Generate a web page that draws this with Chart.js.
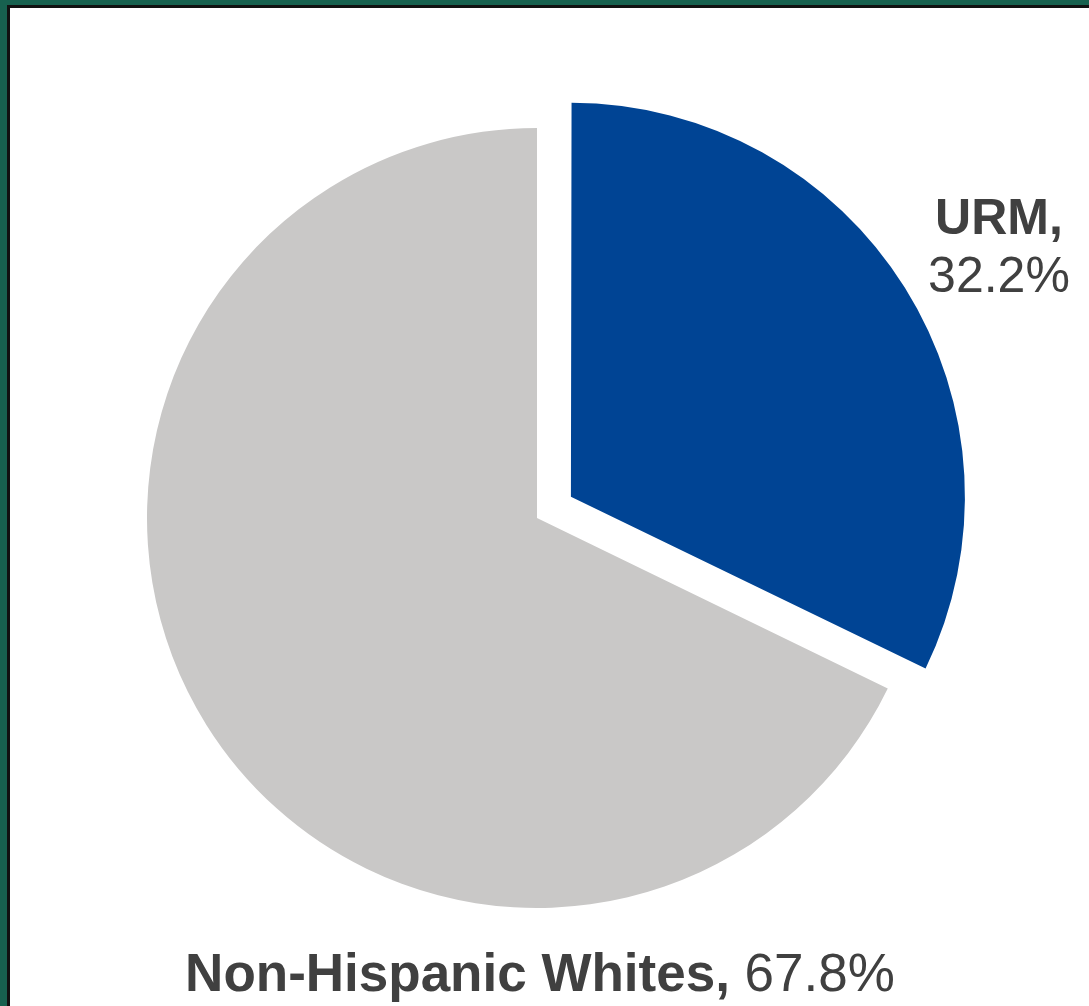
<!DOCTYPE html>
<html>
<head>
<meta charset="utf-8">
<script src="https://cdn.jsdelivr.net/npm/chart.js@4"></script>
<style>
  html, body { margin: 0; padding: 0; }
  body { width: 1089px; height: 1006px; background: #17614f; overflow: hidden; position: relative; }
  .frame { position: absolute; left: 7px; top: 5px; right: 0; bottom: 0; background: #111; }
  .box { position: absolute; left: 10px; top: 8px; width: 1079px; height: 998px; background: #fff; }
</style>
</head>
<body>
<div class="frame"></div>
<div class="box"><canvas class="pie" width="1079" height="998"></canvas></div>
<script>
var categories = ['URM', 'Non-Hispanic Whites'];
var values = [32.2, 67.8];
var sliceColors = ['#004494', '#c9c8c7'];
// chart.js moves an arc by offset / 4
var offsets = [160, 0];

const labelPlugin = {
  id: 'slice_labels',
  afterDraw: (chart) => {
    const ctx = chart.ctx;
    ctx.save();
    ctx.fillStyle = '#404040';
    ctx.textBaseline = 'alphabetic';

    // URM label, two lines, centered
    ctx.textAlign = 'center';
    ctx.font = 'bold 50px "Liberation Sans", Arial, sans-serif';
    ctx.fillText(categories[0] + ',', 989, 226);
    ctx.font = '50px "Liberation Sans", Arial, sans-serif';
    ctx.fillText(values[0].toFixed(1) + '%', 989, 284);

    // bottom label, bold name + regular value
    const boldFont = 'bold 53px "Liberation Sans", Arial, sans-serif';
    const normFont = '53px "Liberation Sans", Arial, sans-serif';
    const part1 = categories[1] + ',';
    const part2 = ' ' + values[1].toFixed(1) + '%';
    ctx.font = boldFont;
    const w1 = ctx.measureText(part1).width;
    ctx.font = normFont;
    const w2 = ctx.measureText(part2).width;
    let x = 530 - (w1 + w2) / 2;
    ctx.textAlign = 'left';
    ctx.font = boldFont;
    ctx.fillText(part1, x, 983);
    ctx.font = normFont;
    ctx.fillText(part2, x + w1, 983);
    ctx.restore();
  }
};

const pieChart = new Chart(document.querySelector('.pie').getContext('2d'), {
  type: 'pie',
  data: {
    labels: categories,
    datasets: [{
      data: values,
      backgroundColor: sliceColors,
      borderWidth: 0,
      offset: offsets,
      hoverOffset: 0,
    }]
  },
  plugins: [labelPlugin],
  options: {
    responsive: false,
    animation: false,
    layout: {
      padding: { left: 57, right: 82, top: 40, bottom: 18 }
    },
    plugins: {
      legend: { display: false },
      tooltip: { enabled: false },
    }
  }
});
</script>
</body>
</html>
